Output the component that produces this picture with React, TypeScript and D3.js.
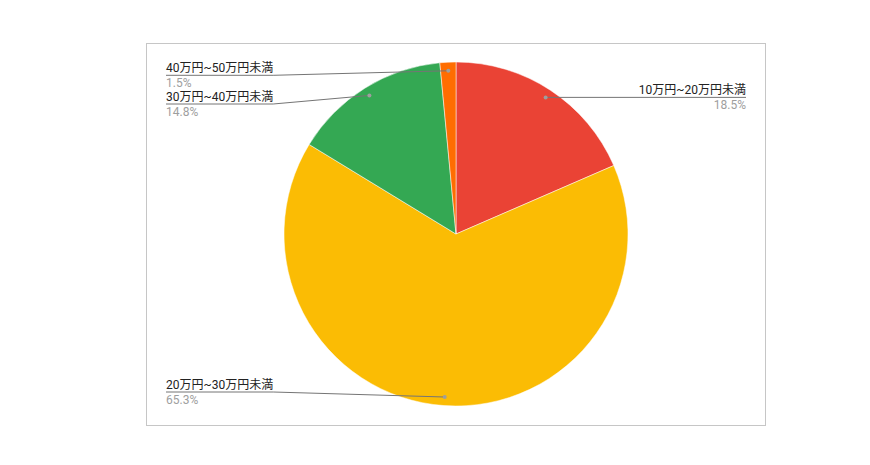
import * as d3 from 'd3';
import { useEffect, useRef } from 'react';

const categories = ['10万円~20万円未満', '20万円~30万円未満', '30万円~40万円未満', '40万円~50万円未満'];
const shares = [18.5, 65.3, 14.8, 1.5];
const colors = ['#ea4335', '#fbbc04', '#34a853', '#ff6d01'];

const W = 870;
const H = 465;

const App = () => {
  const ref = useRef<SVGSVGElement>(null);

  useEffect(() => {
    const svg = d3.select(ref.current);
    svg.selectAll('*').remove();

    const cx = 456, cy = 234, r = 172;
    const font = "Roboto, 'Noto Sans CJK JP', sans-serif";

    // chart frame
    svg.append('rect')
      .attr('x', 146.5).attr('y', 43.5)
      .attr('width', 619).attr('height', 382)
      .attr('fill', '#fff').attr('stroke', '#c6c6c6');

    const data = categories.map((c, i) => ({ c, v: shares[i], color: colors[i] }));
    const pie = d3.pie<any>().value((d: any) => d.v).sort(null);
    const arcs = pie(data);
    const arc = d3.arc<any>().innerRadius(0).outerRadius(r);
    const dotArc = d3.arc<any>().innerRadius(r * 0.95).outerRadius(r * 0.95);

    const g = svg.append('g').attr('transform', `translate(${cx},${cy})`);
    g.selectAll('path.slice')
      .data(arcs)
      .enter()
      .append('path')
      .attr('class', 'slice')
      .attr('d', arc as any)
      .attr('fill', (d: any) => d.data.color)
      .attr('stroke', '#fff')
      .attr('stroke-width', 0.5);

    // label layout
    const labels = arcs.map((a: any) => {
      const [dx, dy] = dotArc.centroid(a);
      const mid = (a.startAngle + a.endAngle) / 2;
      return { a, x: cx + dx, y: cy + dy, right: mid < Math.PI, ly: cy + dy };
    });
    const left = labels.filter((l) => !l.right).sort((p, q) => p.y - q.y);
    let prev = -Infinity;
    left.forEach((l) => {
      l.ly = Math.min(392, Math.max(75.3, l.y, prev + 28.7));
      prev = l.ly;
    });
    const rightL = labels.filter((l) => l.right);

    const lab = svg.append('g').attr('font-family', font).attr('font-size', 12);

    left.forEach((l) => {
      const t = lab.append('text')
        .attr('x', 166).attr('y', l.ly - 3.5)
        .attr('fill', '#222')
        .text(l.a.data.c);
      const tw = (t.node() as SVGTextElement).getComputedTextLength();
      lab.append('text')
        .attr('x', 166).attr('y', l.ly + 11.5)
        .attr('fill', '#9e9e9e')
        .text(l.a.data.v.toFixed(1) + '%');
      lab.append('polyline')
        .attr('points', `166,${l.ly} ${166 + tw},${l.ly} ${l.x},${l.y}`)
        .attr('fill', 'none')
        .attr('stroke', '#757575')
        .attr('stroke-width', 1);
      lab.append('circle').attr('cx', l.x).attr('cy', l.y).attr('r', 2).attr('fill', '#9e9e9e');
    });

    rightL.forEach((l) => {
      const xr = 746;
      lab.append('text')
        .attr('x', xr).attr('y', l.ly - 3.5)
        .attr('text-anchor', 'end')
        .attr('fill', '#222')
        .text(l.a.data.c);
      lab.append('text')
        .attr('x', xr).attr('y', l.ly + 11.5)
        .attr('text-anchor', 'end')
        .attr('fill', '#9e9e9e')
        .text(l.a.data.v.toFixed(1) + '%');
      lab.append('line')
        .attr('x1', l.x).attr('y1', l.y).attr('x2', xr).attr('y2', l.ly)
        .attr('stroke', '#757575')
        .attr('stroke-width', 1);
      lab.append('circle').attr('cx', l.x).attr('cy', l.y).attr('r', 2).attr('fill', '#9e9e9e');
    });
  }, []);

  return (
    <svg
      ref={ref}
      width={W}
      height={H}
      style={{ position: 'absolute', left: 0, top: 0, background: '#fff' }}
    />
  );
};

export default App;
